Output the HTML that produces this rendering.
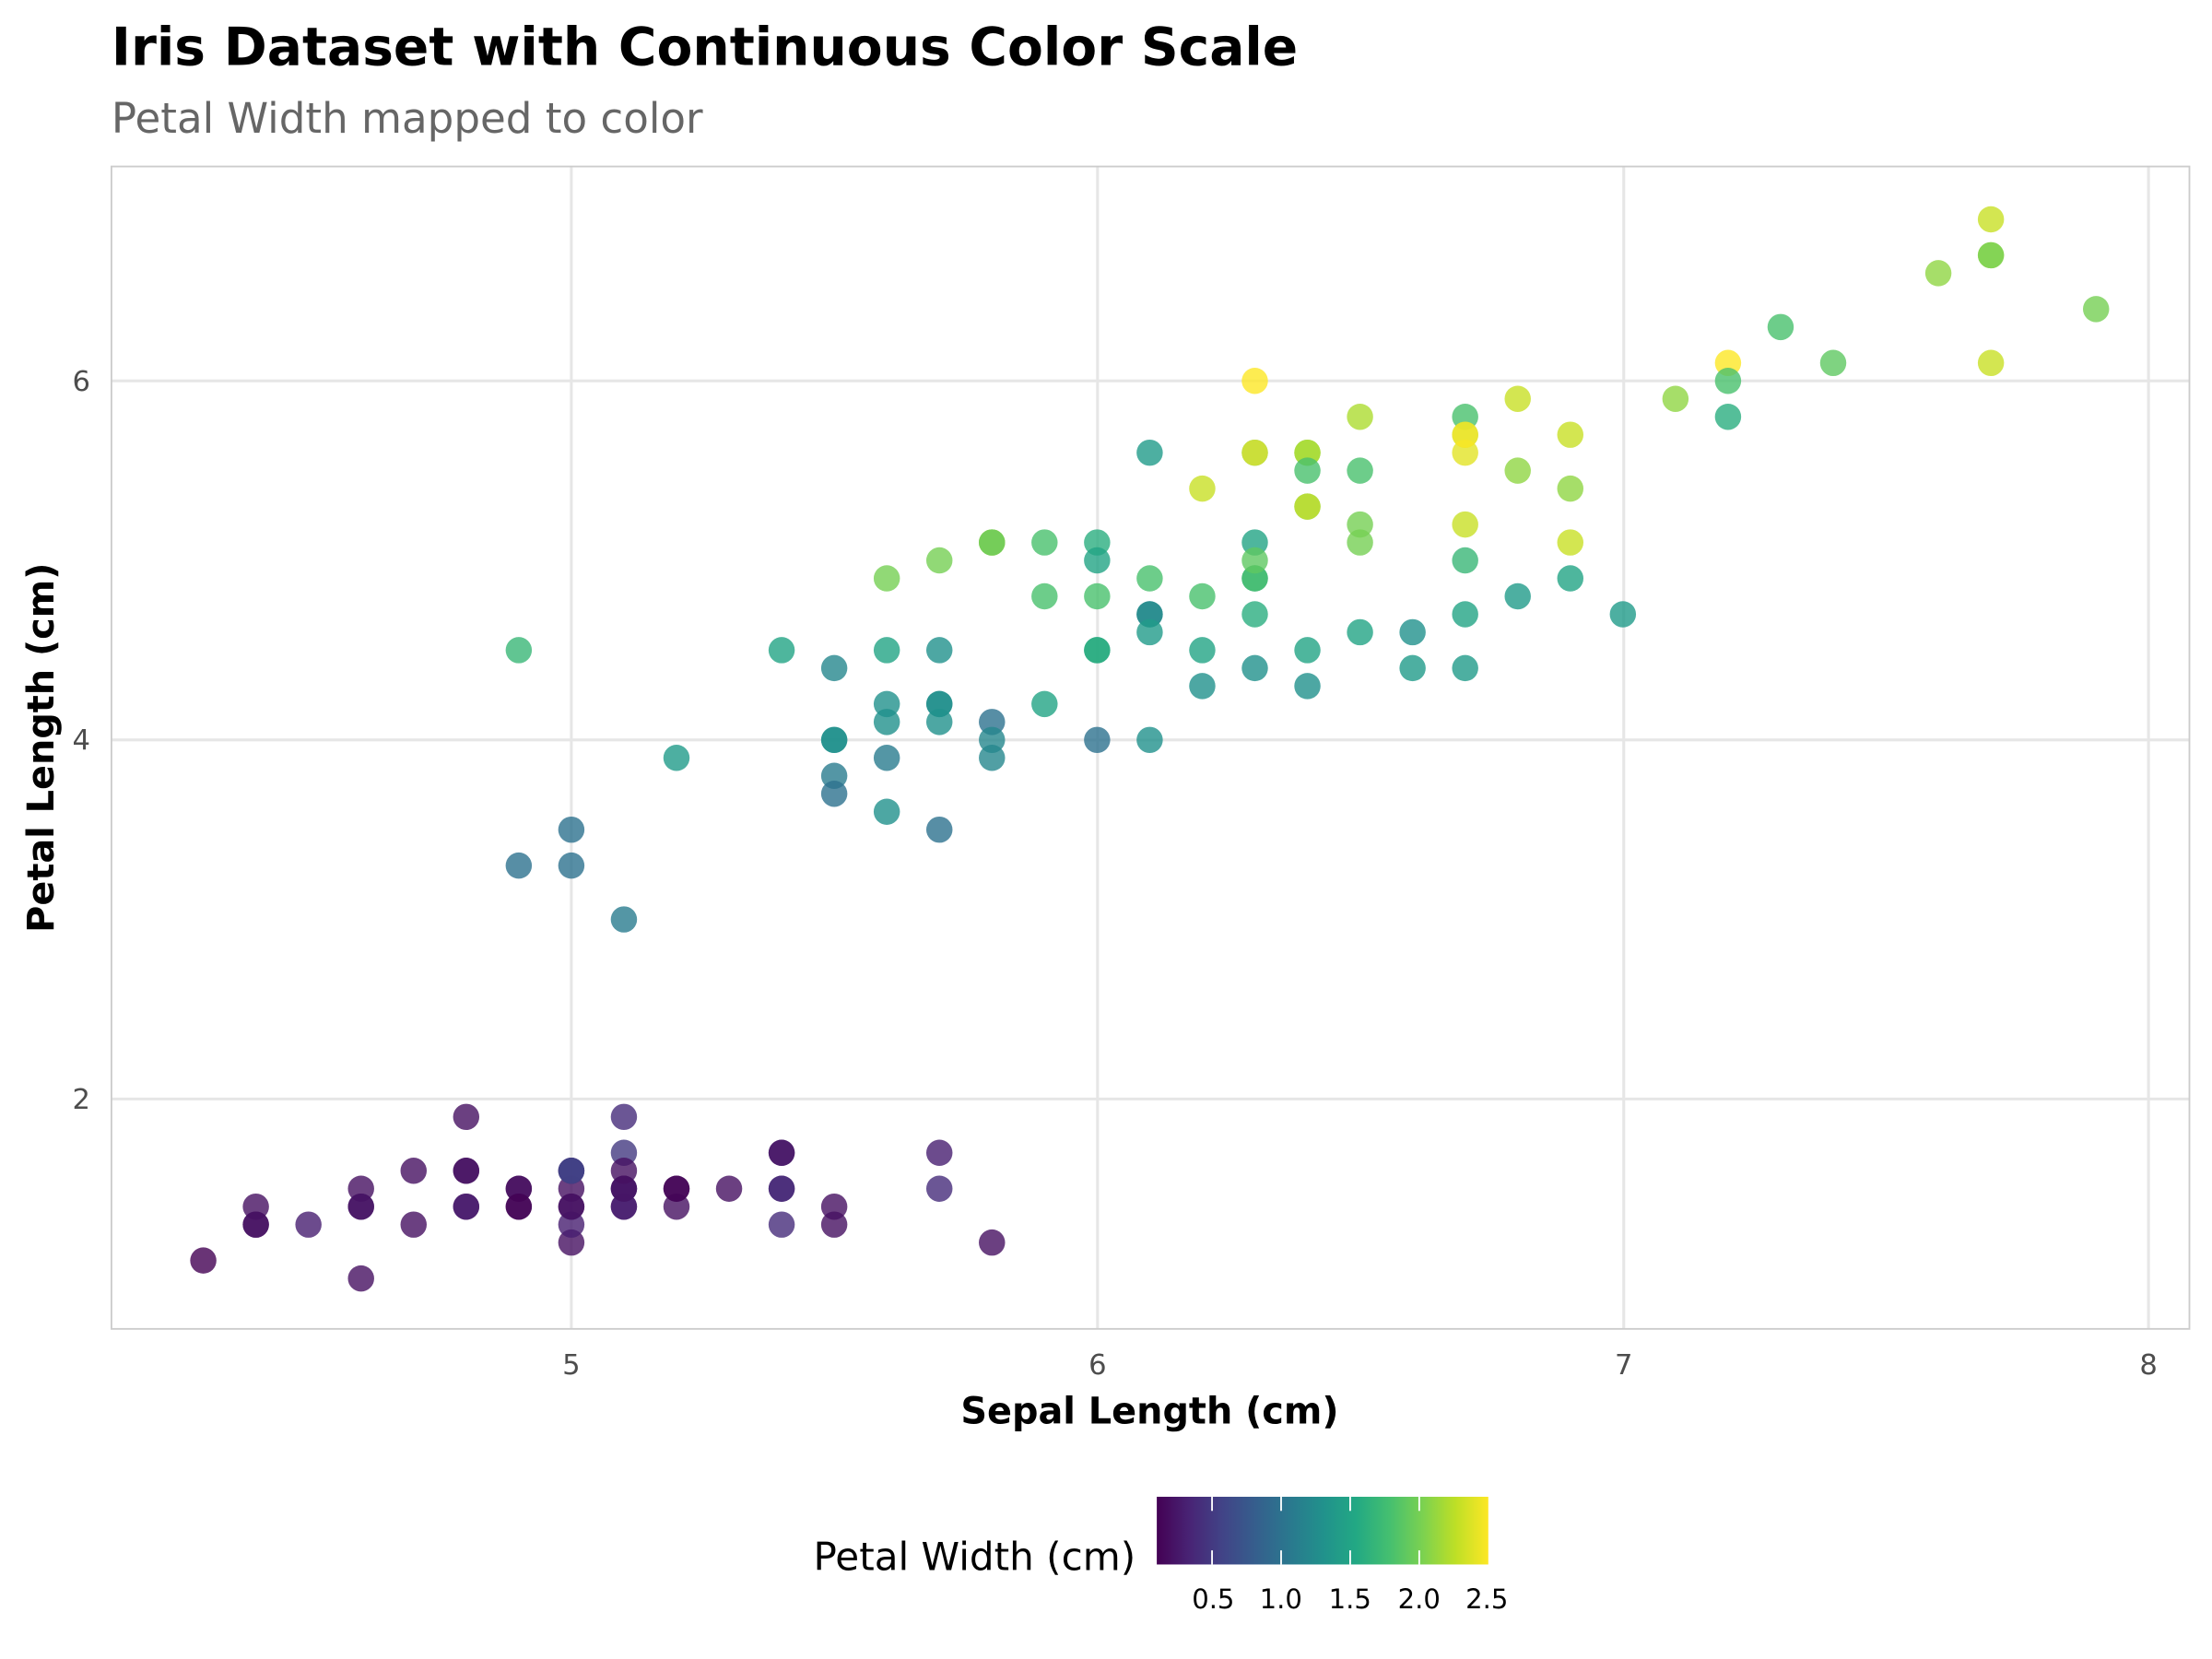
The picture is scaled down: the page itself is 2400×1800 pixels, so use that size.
<!DOCTYPE html>
<html><head><meta charset="utf-8"><style>
html,body{margin:0;padding:0;background:#fff;overflow:hidden;}
svg{display:block;}
text{font-family:"DejaVu Sans","Liberation Sans",sans-serif;}
</style></head><body>
<svg id="s" width="2400" height="1800" viewBox="0 0 1568 1176" xmlns="http://www.w3.org/2000/svg">
<rect width="1568" height="1176" fill="#fff"/>
<text x="79" y="46" font-size="37" font-weight="bold" fill="#000">Iris Dataset with Continuous Color Scale</text>
<text x="79" y="94" font-size="29.5" fill="#666">Petal Width mapped to color</text>
<g stroke="#e6e6e6" stroke-width="2">
<line x1="405" y1="118" x2="405" y2="942"/><line x1="778" y1="118" x2="778" y2="942"/>
<line x1="1151" y1="118" x2="1151" y2="942"/><line x1="1523" y1="118" x2="1523" y2="942"/>
<line x1="79" y1="270" x2="1552" y2="270"/><line x1="79" y1="524.5" x2="1552" y2="524.5"/><line x1="79" y1="779" x2="1552" y2="779"/>
</g>
<rect x="79" y="118" width="1473" height="824" fill="none" stroke="#ccc" stroke-width="1.2"/>
<g id="pts"></g>
<g font-size="20" fill="#4d4d4d" text-anchor="middle">
<text x="405" y="974">5</text><text x="778" y="974">6</text><text x="1151" y="974">7</text><text x="1523" y="974">8</text>
</g>
<g font-size="20" fill="#4d4d4d" text-anchor="end">
<text x="64" y="277">6</text><text x="64" y="531">4</text><text x="64" y="786">2</text>
</g>
<text x="815" y="1009" font-size="26" font-weight="bold" text-anchor="middle">Sepal Length (cm)</text>
<text transform="translate(38,530) rotate(-90)" font-size="26" font-weight="bold" text-anchor="middle">Petal Length (cm)</text>
<defs><linearGradient id="vg" x1="0" x2="1" y1="0" y2="0"></linearGradient></defs>
<rect x="820" y="1061" width="235" height="48" fill="url(#vg)"/>
<g id="cbt" stroke="#fff" stroke-width="1.2"></g>
<text x="805" y="1113" font-size="27.5" text-anchor="end" fill="#000">Petal Width (cm)</text>
<g font-size="19" fill="#000" text-anchor="middle">
<text x="860" y="1140">0.5</text><text x="908" y="1140">1.0</text><text x="957" y="1140">1.5</text><text x="1006" y="1140">2.0</text><text x="1054" y="1140">2.5</text>
</g>
</svg>
<script>
var d=[[5.1,1.4,.2],[4.9,1.4,.2],[4.7,1.3,.2],[4.6,1.5,.2],[5,1.4,.2],[5.4,1.7,.4],[4.6,1.4,.3],[5,1.5,.2],[4.4,1.4,.2],[4.9,1.5,.1],[5.4,1.5,.2],[4.8,1.6,.2],[4.8,1.4,.1],[4.3,1.1,.1],[5.8,1.2,.2],[5.7,1.5,.4],[5.4,1.3,.4],[5.1,1.4,.3],[5.7,1.7,.3],[5.1,1.5,.3],[5.4,1.7,.2],[5.1,1.5,.4],[4.6,1,.2],[5.1,1.7,.5],[4.8,1.9,.2],[5,1.6,.2],[5,1.6,.4],[5.2,1.5,.2],[5.2,1.4,.2],[4.7,1.6,.2],[4.8,1.6,.2],[5.4,1.5,.4],[5.2,1.5,.1],[5.5,1.4,.2],[4.9,1.5,.2],[5,1.2,.2],[5.5,1.3,.2],[4.9,1.4,.1],[4.4,1.3,.2],[5.1,1.5,.2],[5,1.3,.3],[4.5,1.3,.3],[4.4,1.3,.2],[5,1.6,.6],[5.1,1.9,.4],[4.8,1.4,.3],[5.1,1.6,.2],[4.6,1.4,.2],[5.3,1.5,.2],[5,1.4,.2],
[7,4.7,1.4],[6.4,4.5,1.5],[6.9,4.9,1.5],[5.5,4,1.3],[6.5,4.6,1.5],[5.7,4.5,1.3],[6.3,4.7,1.6],[4.9,3.3,1],[6.6,4.6,1.3],[5.2,3.9,1.4],[5,3.5,1],[5.9,4.2,1.5],[6,4,1],[6.1,4.7,1.4],[5.6,3.6,1.3],[6.7,4.4,1.4],[5.6,4.5,1.5],[5.8,4.1,1],[6.2,4.5,1.5],[5.6,3.9,1.1],[5.9,4.8,1.8],[6.1,4,1.3],[6.3,4.9,1.5],[6.1,4.7,1.2],[6.4,4.3,1.3],[6.6,4.4,1.4],[6.8,4.8,1.4],[6.7,5,1.7],[6,4.5,1.5],[5.7,3.5,1],[5.5,3.8,1.1],[5.5,3.7,1],[5.8,3.9,1.2],[6,5.1,1.6],[5.4,4.5,1.5],[6,4.5,1.6],[6.7,4.7,1.5],[6.3,4.4,1.3],[5.6,4.1,1.3],[5.5,4,1.3],[5.5,4.4,1.2],[6.1,4.6,1.4],[5.8,4,1.2],[5,3.3,1],[5.6,4.2,1.3],[5.7,4.2,1.2],[5.7,4.2,1.3],[6.2,4.3,1.3],[5.1,3,1.1],[5.7,4.1,1.3],
[6.3,6,2.5],[5.8,5.1,1.9],[7.1,5.9,2.1],[6.3,5.6,1.8],[6.5,5.8,2.2],[7.6,6.6,2.1],[4.9,4.5,1.7],[7.3,6.3,1.8],[6.7,5.8,1.8],[7.2,6.1,2.5],[6.5,5.1,2],[6.4,5.3,1.9],[6.8,5.5,2.1],[5.7,5,2],[5.8,5.1,2.4],[6.4,5.3,2.3],[6.5,5.5,1.8],[7.7,6.7,2.2],[7.7,6.9,2.3],[6,5,1.5],[6.9,5.7,2.3],[5.6,4.9,2],[7.7,6.7,2],[6.3,4.9,1.8],[6.7,5.7,2.1],[7.2,6,1.8],[6.2,4.8,1.8],[6.1,4.9,1.8],[6.4,5.6,2.1],[7.2,5.8,1.6],[7.4,6.1,1.9],[7.9,6.4,2],[6.4,5.6,2.2],[6.3,5.1,1.5],[6.1,5.6,1.4],[7.7,6.1,2.3],[6.3,5.6,2.4],[6.4,5.5,1.8],[6,4.8,1.8],[6.9,5.4,2.1],[6.7,5.6,2.4],[6.9,5.1,2.3],[5.8,5.1,1.9],[6.8,5.9,2.3],[6.7,5.7,2.5],[6.7,5.2,2.3],[6.3,5,1.9],[6.5,5.2,2],[6.2,5.4,2.3],[5.9,5.1,1.8]];
var V=["#440154","#482475","#414487","#355f8d","#2a788e","#21918c","#22a884","#44bf70","#7ad151","#bddf26","#fde725"];
function h2r(h){return [parseInt(h.substr(1,2),16),parseInt(h.substr(3,2),16),parseInt(h.substr(5,2),16)];}
function col(t){t=Math.max(0,Math.min(1,t));var f=t*10,i=Math.min(9,Math.floor(f)),r=f-i,a=h2r(V[i]),b=h2r(V[i+1]);
return "rgb("+[0,1,2].map(function(k){return Math.round(a[k]+(b[k]-a[k])*r)}).join(",")+")";}
var ns="http://www.w3.org/2000/svg",g=document.getElementById("pts");
d.forEach(function(p){var c=document.createElementNS(ns,"circle");
c.setAttribute("cx",405+(p[0]-5)*372.7);c.setAttribute("cy",270+(6-p[1])*127.25);c.setAttribute("r",9.3);
c.setAttribute("fill",col((p[2]-0.1)/2.4));c.setAttribute("fill-opacity",0.8);g.appendChild(c);});
var lg=document.getElementById("vg");
for(var i=0;i<=10;i++){var st=document.createElementNS(ns,"stop");st.setAttribute("offset",i/10);st.setAttribute("stop-color",V[i]);lg.appendChild(st);}
var cb=document.getElementById("cbt");
[0.5,1,1.5,2].forEach(function(v){var x=820+(v-0.1)/2.4*235;
[[1061,1071],[1099,1109]].forEach(function(y){var l=document.createElementNS(ns,"line");
l.setAttribute("x1",x);l.setAttribute("x2",x);l.setAttribute("y1",y[0]);l.setAttribute("y2",y[1]);cb.appendChild(l);});});
</script>
</body></html>
